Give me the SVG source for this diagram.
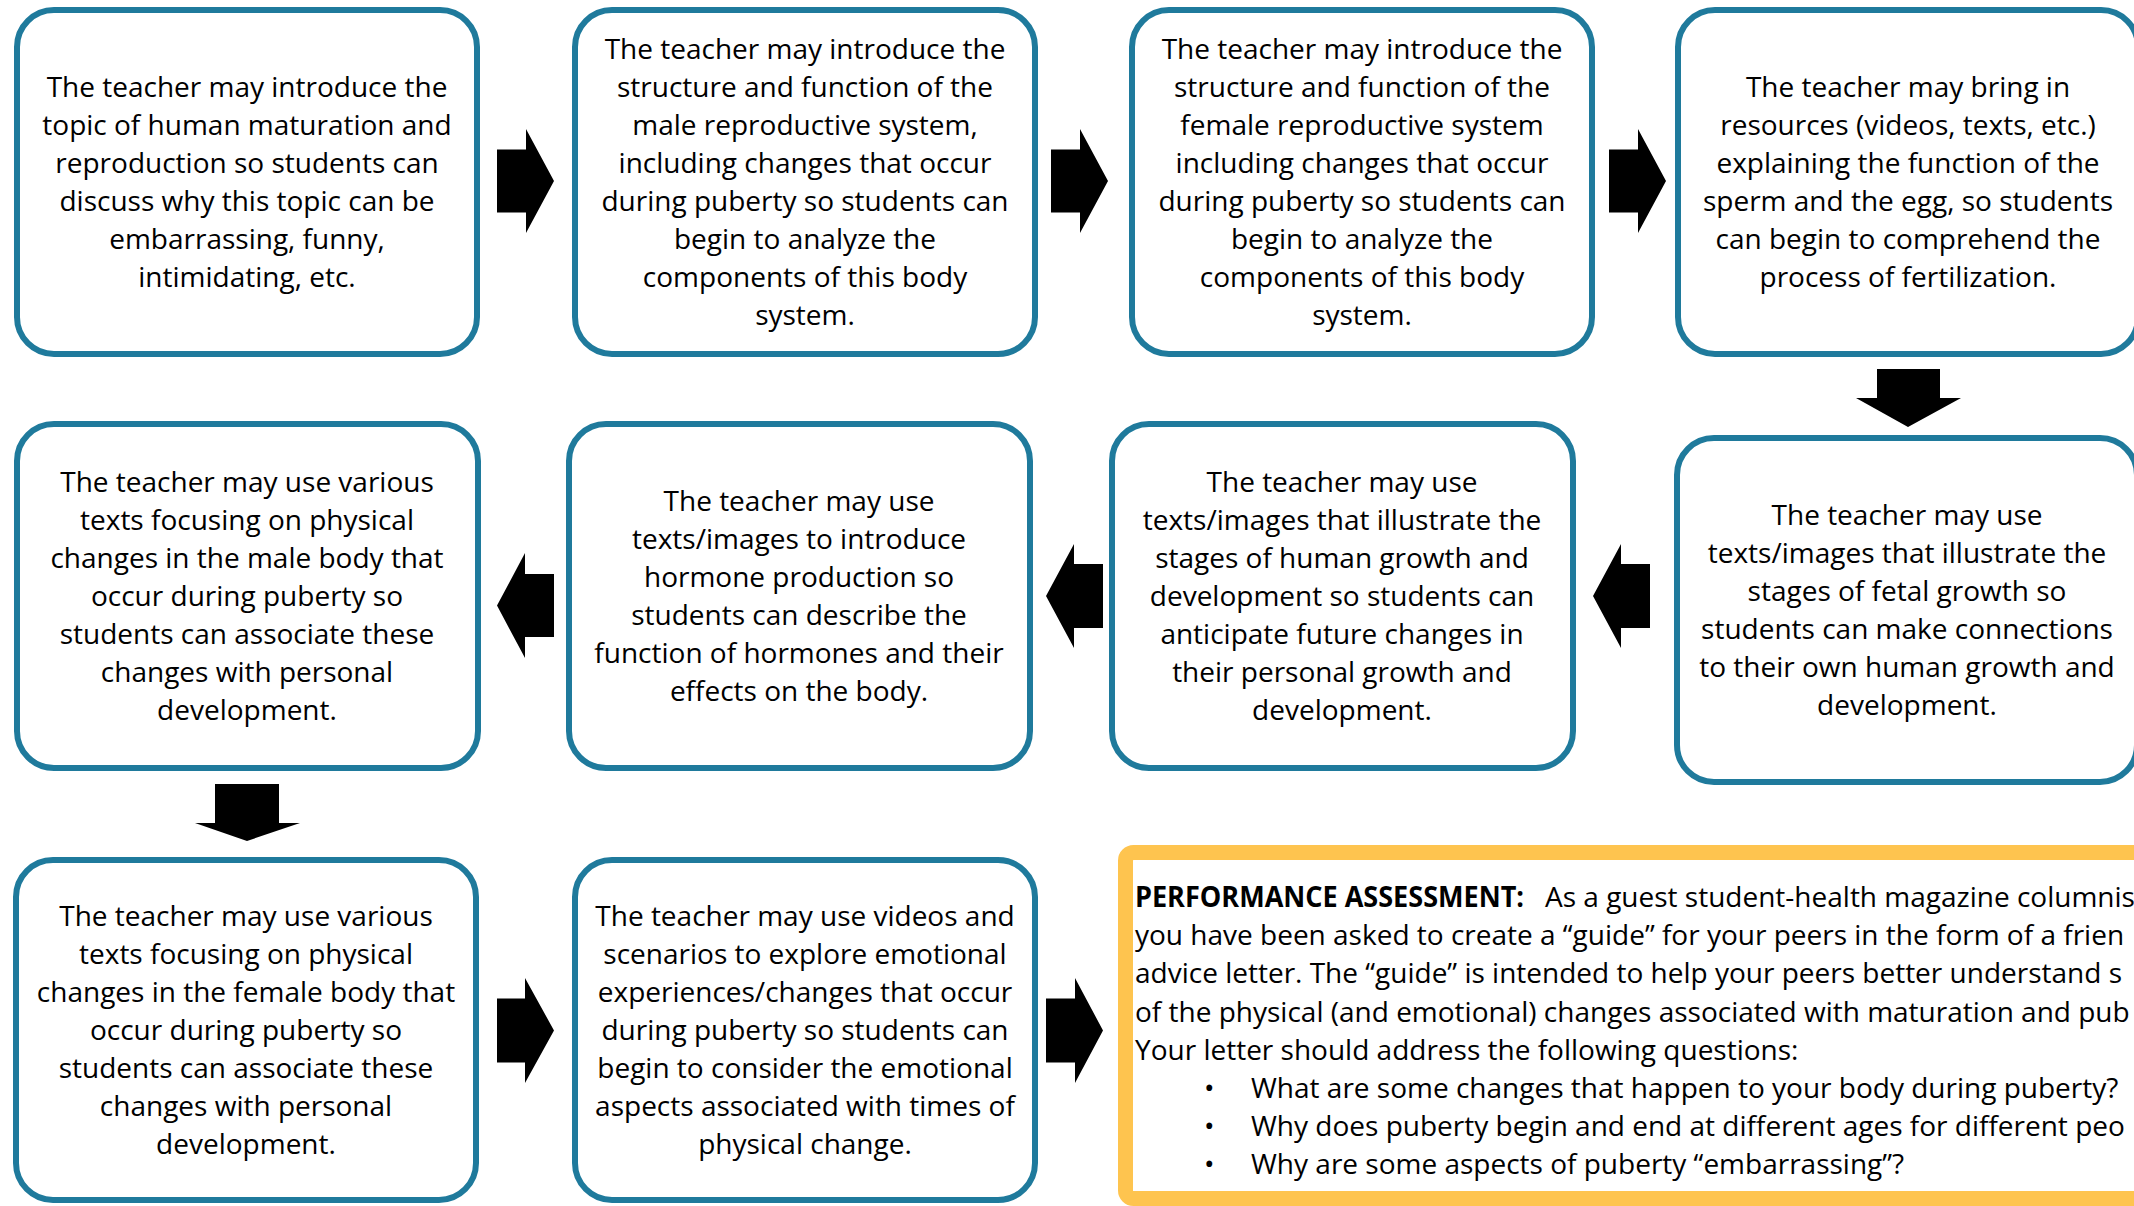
<svg xmlns="http://www.w3.org/2000/svg" width="2134" height="1206" viewBox="0 0 2134 1206">
<style>
.box{fill:#ffffff;stroke:#1f7a9c;stroke-width:6}
.pa{fill:#ffffff;stroke:#fec44f;stroke-width:15}
.t{font-family:"Open Sans","Noto Sans","Liberation Sans",sans-serif;font-size:28px;fill:#000000;text-anchor:middle}
.l{font-family:"Open Sans","Noto Sans","Liberation Sans",sans-serif;font-size:28px;fill:#000000}
.b{font-weight:bold}
.arr{fill:#000000}
</style>
<rect width="2134" height="1206" fill="#ffffff"/>

<g id="connectors">
  <polygon class="arr" points="497,149.5 526,149.5 526,129 554,181 526,233 526,212.5 497,212.5"/>
  <polygon class="arr" points="1051,149.5 1080,149.5 1080,129 1108,181 1080,233 1080,212.5 1051,212.5"/>
  <polygon class="arr" points="1609,149.5 1638,149.5 1638,129 1666,181 1638,233 1638,212.5 1609,212.5"/>
  <polygon class="arr" points="1877,369 1940,369 1940,398 1961,398 1908,427 1856,398 1877,398"/>
  <polygon class="arr" points="1650,564 1621,564 1621,544 1593,596 1621,648 1621,628 1650,628"/>
  <polygon class="arr" points="1103,564 1074,564 1074,544 1046,596 1074,648 1074,628 1103,628"/>
  <polygon class="arr" points="554,574 525,574 525,553 497,605.5 525,658 525,637 554,637"/>
  <polygon class="arr" points="215,784 279,784 279,823 300,823 247,841 195,823 215,823"/>
  <polygon class="arr" points="497,998.5 525,998.5 525,978 554,1030.5 525,1083 525,1062.5 497,1062.5"/>
  <polygon class="arr" points="1046,998.5 1075,998.5 1075,978 1103,1030.5 1075,1083 1075,1062.5 1046,1062.5"/>
</g>

<g id="node1">
  <rect class="box" x="17" y="10" width="460" height="344" rx="37"/>
  <text class="t" x="247" y="97">The teacher may introduce the<tspan x="247" dy="38">topic of human maturation and</tspan><tspan x="247" dy="38">reproduction so students can</tspan><tspan x="247" dy="38">discuss why this topic can be</tspan><tspan x="247" dy="38">embarrassing, funny,</tspan><tspan x="247" dy="38">intimidating, etc.</tspan></text>
</g>

<g id="node2">
  <rect class="box" x="575" y="10" width="460" height="344" rx="37"/>
  <text class="t" x="805" y="59">The teacher may introduce the<tspan x="805" dy="38">structure and function of the</tspan><tspan x="805" dy="38">male reproductive system,</tspan><tspan x="805" dy="38">including changes that occur</tspan><tspan x="805" dy="38">during puberty so students can</tspan><tspan x="805" dy="38">begin to analyze the</tspan><tspan x="805" dy="38">components of this body</tspan><tspan x="805" dy="38">system.</tspan></text>
</g>

<g id="node3">
  <rect class="box" x="1132" y="10" width="460" height="344" rx="37"/>
  <text class="t" x="1362" y="59">The teacher may introduce the<tspan x="1362" dy="38">structure and function of the</tspan><tspan x="1362" dy="38">female reproductive system</tspan><tspan x="1362" dy="38">including changes that occur</tspan><tspan x="1362" dy="38">during puberty so students can</tspan><tspan x="1362" dy="38">begin to analyze the</tspan><tspan x="1362" dy="38">components of this body</tspan><tspan x="1362" dy="38">system.</tspan></text>
</g>

<g id="node4">
  <rect class="box" x="1678" y="10" width="460" height="344" rx="37"/>
  <text class="t" x="1908" y="97">The teacher may bring in<tspan x="1908" dy="38">resources (videos, texts, etc.)</tspan><tspan x="1908" dy="38">explaining the function of the</tspan><tspan x="1908" dy="38">sperm and the egg, so students</tspan><tspan x="1908" dy="38">can begin to comprehend the</tspan><tspan x="1908" dy="38">process of fertilization.</tspan></text>
</g>

<g id="node5">
  <rect class="box" x="1677" y="438" width="460" height="344" rx="37"/>
  <text class="t" x="1907" y="525">The teacher may use<tspan x="1907" dy="38">texts/images that illustrate the</tspan><tspan x="1907" dy="38">stages of fetal growth so</tspan><tspan x="1907" dy="38">students can make connections</tspan><tspan x="1907" dy="38">to their own human growth and</tspan><tspan x="1907" dy="38">development.</tspan></text>
</g>

<g id="node6">
  <rect class="box" x="1112" y="424" width="461" height="344" rx="37"/>
  <text class="t" x="1342" y="492">The teacher may use<tspan x="1342" dy="38">texts/images that illustrate the</tspan><tspan x="1342" dy="38">stages of human growth and</tspan><tspan x="1342" dy="38">development so students can</tspan><tspan x="1342" dy="38">anticipate future changes in</tspan><tspan x="1342" dy="38">their personal growth and</tspan><tspan x="1342" dy="38">development.</tspan></text>
</g>

<g id="node7">
  <rect class="box" x="569" y="424" width="461" height="344" rx="37"/>
  <text class="t" x="799" y="511">The teacher may use<tspan x="799" dy="38">texts/images to introduce</tspan><tspan x="799" dy="38">hormone production so</tspan><tspan x="799" dy="38">students can describe the</tspan><tspan x="799" dy="38">function of hormones and their</tspan><tspan x="799" dy="38">effects on the body.</tspan></text>
</g>

<g id="node8">
  <rect class="box" x="17" y="424" width="461" height="344" rx="37"/>
  <text class="t" x="247" y="492">The teacher may use various<tspan x="247" dy="38">texts focusing on physical</tspan><tspan x="247" dy="38">changes in the male body that</tspan><tspan x="247" dy="38">occur during puberty so</tspan><tspan x="247" dy="38">students can associate these</tspan><tspan x="247" dy="38">changes with personal</tspan><tspan x="247" dy="38">development.</tspan></text>
</g>

<g id="node9">
  <rect class="box" x="16" y="860" width="460" height="340" rx="37"/>
  <text class="t" x="246" y="926">The teacher may use various<tspan x="246" dy="38">texts focusing on physical</tspan><tspan x="246" dy="38">changes in the female body that</tspan><tspan x="246" dy="38">occur during puberty so</tspan><tspan x="246" dy="38">students can associate these</tspan><tspan x="246" dy="38">changes with personal</tspan><tspan x="246" dy="38">development.</tspan></text>
</g>

<g id="node10">
  <rect class="box" x="575" y="860" width="460" height="340" rx="37"/>
  <text class="t" x="805" y="926">The teacher may use videos and<tspan x="805" dy="38">scenarios to explore emotional</tspan><tspan x="805" dy="38">experiences/changes that occur</tspan><tspan x="805" dy="38">during puberty so students can</tspan><tspan x="805" dy="38">begin to consider the emotional</tspan><tspan x="805" dy="38">aspects associated with times of</tspan><tspan x="805" dy="38">physical change.</tspan></text>
</g>

<g id="node11">
  <rect class="pa" x="1125.5" y="852.5" width="1100" height="346" rx="8"/>
  <text class="l b" x="1135" y="907" textLength="389" lengthAdjust="spacingAndGlyphs">PERFORMANCE ASSESSMENT:</text>
  <text class="l" x="1545" y="907">As a guest student-health magazine columnis</text>
  <text class="l" x="1135" y="945">you have been asked to create a “guide” for your peers in the form of a frien</text>
  <text class="l" x="1135" y="983">advice letter. The “guide” is intended to help your peers better understand s</text>
  <text class="l" x="1135" y="1022">of the physical (and emotional) changes associated with maturation and pub</text>
  <text class="l" x="1135" y="1060">Your letter should address the following questions:</text>
  <text class="l" x="1204" y="1098">•</text>
  <text class="l" x="1251" y="1098">What are some changes that happen to your body during puberty?</text>
  <text class="l" x="1204" y="1136">•</text>
  <text class="l" x="1251" y="1136">Why does puberty begin and end at different ages for different peo</text>
  <text class="l" x="1204" y="1174">•</text>
  <text class="l" x="1251" y="1174">Why are some aspects of puberty “embarrassing”?</text>
</g>
</svg>
